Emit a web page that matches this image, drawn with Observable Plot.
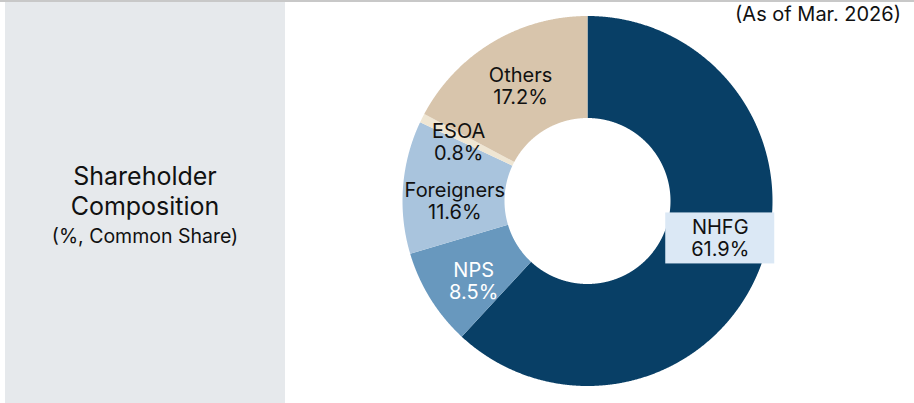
<!DOCTYPE html>
<html>
<head>
<meta charset="utf-8">
<script src="https://cdn.jsdelivr.net/npm/d3@7"></script>
<script src="https://cdn.jsdelivr.net/npm/@observablehq/plot@0.6"></script>
<style>
  html, body { margin: 0; padding: 0; background: #ffffff; }
  #wrap { position: relative; width: 914px; height: 403px; overflow: hidden; font-family: Inter, "Noto Sans", sans-serif; color: #111; }
  #topline { position: absolute; left: 0; top: 0; width: 914px; height: 2px; background: #c8c8c8; }
  #panel { position: absolute; left: 5px; top: 2px; width: 280px; height: 401px; background: #e6e9ec; }
  .t { position: absolute; left: 0; width: 280px; text-align: center; white-space: nowrap; }
  #t1 { top: 159px; font-size: 25px; line-height: 30px; }
  #t2 { top: 189px; font-size: 25px; line-height: 30px; }
  #t3 { top: 222px; font-size: 19.5px; line-height: 24px; }
  #asof { position: absolute; right: 13px; top: 2px; font-size: 20px; line-height: 24px; white-space: nowrap; }
  #chart { position: absolute; left: 387px; top: 0; }
</style>
</head>
<body>
<div id="wrap">
  <div id="topline"></div>
  <div id="panel">
    <div class="t" id="t1">Shareholder</div>
    <div class="t" id="t2">Composition</div>
    <div class="t" id="t3">(%, Common Share)</div>
  </div>
  <div id="chart"></div>
  <div id="asof">(As of Mar. 2026)</div>
</div>
<script>
// ---- data ----
const categories = ["NHFG", "NPS", "Foreigners", "ESOA", "Others"];
const shares = [61.9, 8.5, 11.6, 0.8, 17.2];
const sliceColors = ["#083f66", "#6898be", "#a9c4dd", "#efe6d3", "#d8c5ac"];

// ---- layout / style (pixel nudges for label placement) ----
const W = 400, H = 403, CY = 200.5;
const R = 185, r = 83, labelR = 134;
const labelNudge = {NHFG: [8, -11.5], NPS: [0, 9], Foreigners: [1, 10], ESOA: [-9, 1], Others: [2, 0]};

const rows = categories.map((name, i) => ({name, value: shares[i]}));
const arcs = d3.pie().sort(null).value(d => d.value)(rows);

const ringPts = arcs.flatMap(s => {
  const n = Math.max(2, Math.ceil((s.endAngle - s.startAngle) / 0.004));
  const pts = [];
  for (let i = 0; i <= n; i++) {
    const a = s.startAngle + (s.endAngle - s.startAngle) * i / n;
    pts.push({name: s.data.name, x: R * Math.sin(a), y: R * Math.cos(a)});
  }
  for (let i = n; i >= 0; i--) {
    const a = s.startAngle + (s.endAngle - s.startAngle) * i / n;
    pts.push({name: s.data.name, x: r * Math.sin(a), y: r * Math.cos(a)});
  }
  return pts;
});

const labels = arcs.map(s => {
  const a = (s.startAngle + s.endAngle) / 2;
  const [ndx, ndy] = labelNudge[s.data.name] || [0, 0];
  return {
    name: s.data.name,
    text: `${s.data.name}\n${s.data.value.toFixed(1)}%`,
    x: labelR * Math.sin(a) + ndx,
    y: labelR * Math.cos(a) - ndy
  };
});
const boxLabel = labels.filter(d => d.name === "NHFG");

const plot = Plot.plot({
  width: W,
  height: H,
  margin: 0,
  inset: 0,
  style: {background: "none", fontFamily: "Inter, 'Noto Sans', sans-serif"},
  x: {domain: [-W / 2, W / 2], axis: null},
  y: {domain: [-(H - CY), CY], axis: null},
  color: {domain: categories, range: sliceColors},
  marks: [
    Plot.line(ringPts, {x: "x", y: "y", z: "name", fill: "name", stroke: "none", curve: "linear"}),
    Plot.rect(boxLabel, {
      x1: d => d.x - 54.5, x2: d => d.x + 54.5,
      y1: d => d.y - 25.5, y2: d => d.y + 25.5,
      fill: "#dbe8f5"
    }),
    Plot.text(labels.filter(d => d.name !== "NPS"), {
      x: "x", y: "y", text: "text",
      fill: "#111111", fontSize: 20, lineHeight: 1.1
    }),
    Plot.text(labels.filter(d => d.name === "NPS"), {
      x: "x", y: "y", text: "text",
      fill: "#ffffff", fontSize: 20, lineHeight: 1.1
    })
  ]
});
document.getElementById("chart").appendChild(plot);
</script>
</body>
</html>
